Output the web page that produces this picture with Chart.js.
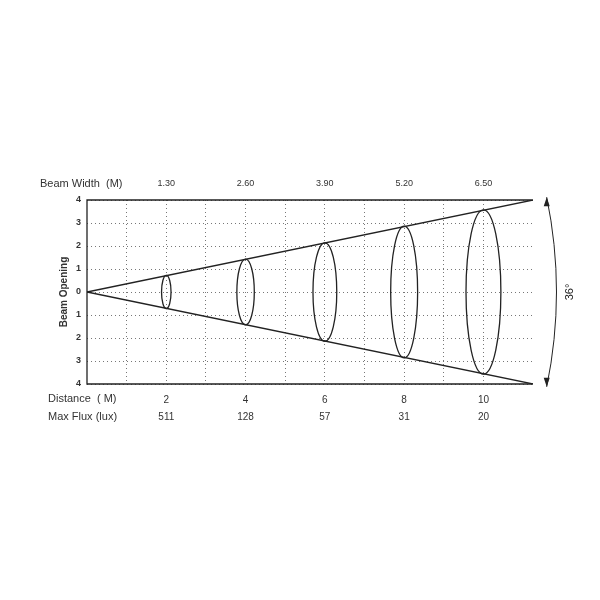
<!DOCTYPE html>
<html><head><meta charset="utf-8">
<script src="https://cdn.jsdelivr.net/npm/chart.js@4"></script>
<style>body{margin:0;background:#fff}#c{width:600px;height:600px}</style>
</head><body><div id="c"><canvas id="cv" width="600" height="600"></canvas></div>
<script>
const distances = [2, 4, 6, 8, 10];
const beamWidths = ["1.30", "2.60", "3.90", "5.20", "6.50"];
const maxFlux = ["511", "128", "57", "31", "20"];
const halfHeights = [0.72, 1.43, 2.14, 2.86, 3.57];
const halfWidths = [0.12, 0.22, 0.3, 0.34, 0.44];
const coneEnd = 11.25;
const coneEdge = 4;

const FONT = "Arial, 'Liberation Sans', sans-serif";

// ellipses, frame, side labels and the angle arc
const extras = {
  id: "extras",
  afterDatasetsDraw(chart) {
    const ctx = chart.ctx, x = chart.scales.x, y = chart.scales.y;
    const a = chart.chartArea;
    ctx.save();
    ctx.strokeStyle = "#222";
    ctx.lineWidth = 1.3;
    ctx.beginPath();
    ctx.moveTo(a.right, a.top); ctx.lineTo(a.left, a.top);
    ctx.lineTo(a.left, a.bottom); ctx.lineTo(a.right, a.bottom);
    ctx.stroke();
    distances.forEach((d, i) => {
      const cx = x.getPixelForValue(d), cy = y.getPixelForValue(0);
      const rx = x.getPixelForValue(d + halfWidths[i]) - cx;
      const ry = cy - y.getPixelForValue(halfHeights[i]);
      ctx.beginPath();
      ctx.ellipse(cx, cy, rx, ry, 0, 0, Math.PI * 2);
      ctx.stroke();
    });
    // angle arc
    const ax = x.getPixelForValue(0), ay = y.getPixelForValue(0);
    const ex = x.getPixelForValue(coneEnd), ey = y.getPixelForValue(coneEdge);
    const ang = Math.atan2(ay - ey, ex - ax);
    const r = Math.hypot(ex - ax, ay - ey) + 14;
    ctx.lineWidth = 1;
    ctx.beginPath();
    ctx.arc(ax, ay, r, -ang, ang);
    ctx.stroke();
    ctx.fillStyle = "#222";
    [-ang, ang].forEach(t => {
      const px = ax + r * Math.cos(t), py = ay + r * Math.sin(t);
      const s = t < 0 ? 1 : -1;
      ctx.beginPath();
      ctx.moveTo(px, py);
      ctx.lineTo(px - 3, py + s * 9);
      ctx.lineTo(px + 3, py + s * 9);
      ctx.closePath();
      ctx.fill();
    });
    ctx.save();
    ctx.translate(ax + r + 14, ay);
    ctx.rotate(-Math.PI / 2);
    ctx.font = "11px " + FONT;
    ctx.textAlign = "center";
    ctx.textBaseline = "middle";
    ctx.fillText("36°", 0, 0);
    ctx.restore();
    ctx.save();
    ctx.translate(64, ay);
    ctx.rotate(-Math.PI / 2);
    ctx.font = "bold 10px " + FONT;
    ctx.fillStyle = "#333";
    ctx.textAlign = "center";
    ctx.textBaseline = "middle";
    ctx.fillText("Beam Opening", 0, 0);
    ctx.restore();
    ctx.restore();

    ctx.save();
    ctx.fillStyle = "#333";
    ctx.font = "11px " + FONT;
    ctx.textBaseline = "middle";
    ctx.fillText("Beam Width  (M)", 40, 184);
    ctx.fillText("Distance  ( M)", 48, 399);
    ctx.fillText("Max Flux (lux)", 48, 417);
    ctx.restore();
  }
};

const dotted = { color: "#777", lineWidth: 1 };

new Chart(document.getElementById("cv"), {
  type: "scatter",
  data: {
    datasets: [
      { data: [{ x: 0, y: 0 }, { x: coneEnd, y: coneEdge }], showLine: true, borderColor: "#222", borderWidth: 1.3, pointRadius: 0 },
      { data: [{ x: 0, y: 0 }, { x: coneEnd, y: -coneEdge }], showLine: true, borderColor: "#222", borderWidth: 1.3, pointRadius: 0 }
    ]
  },
  options: {
    responsive: false,
    animation: false,
    layout: { padding: { left: 0, right: 67, top: 0, bottom: 0 } },
    plugins: { legend: { display: false }, tooltip: { enabled: false } },
    scales: {
      x: {
        type: "linear", min: 0, max: coneEnd, position: "bottom",
        afterBuildTicks: s => { s.ticks = [1,2,3,4,5,6,7,8,9,10].map(v => ({ value: v })); },
        afterFit: s => { s.height = 216; },
        grid: { ...dotted, drawTicks: false },
        border: { display: false, dash: [1, 3] },
        ticks: {
          padding: 8, color: "#333", font: { size: 10, family: FONT, lineHeight: 1.7 },
          callback: v => { const i = distances.indexOf(v); return i < 0 ? "" : [String(v), maxFlux[i]]; }
        }
      },
      x2: {
        type: "linear", min: 0, max: coneEnd, position: "top",
        afterBuildTicks: s => { s.ticks = distances.map(v => ({ value: v })); },
        afterFit: s => { s.height = 200; },
        grid: { display: false },
        border: { display: false },
        ticks: {
          padding: 3, color: "#333", font: { size: 9, family: FONT },
          callback: v => beamWidths[distances.indexOf(v)]
        }
      },
      y: {
        min: -4, max: 4,
        afterBuildTicks: s => { s.ticks = [-4,-3,-2,-1,0,1,2,3,4].map(v => ({ value: v })); },
        afterFit: s => { s.width = 87; },
        grid: { ...dotted, drawTicks: false },
        border: { display: false, dash: [1, 3] },
        ticks: { padding: 6, color: "#333", font: { size: 9, weight: "bold", family: FONT }, callback: v => String(Math.abs(v)) }
      }
    }
  },
  plugins: [extras]
});
</script>
</body></html>
